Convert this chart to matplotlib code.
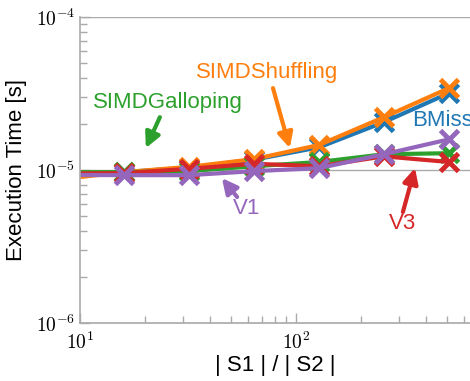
import matplotlib
matplotlib.use("Agg")
from matplotlib import pyplot as plt
from matplotlib.ticker import FuncFormatter, LogLocator
import numpy as np

plt.rcParams['font.family'] = ['Liberation Sans', 'DejaVu Sans']
plt.rcParams['mathtext.fontset'] = 'cm'

# data (ratio |S1|/|S2| vs execution time in seconds)
ratio = [8, 16, 32, 64, 128, 256, 512]
bmiss = [9.3e-6, 9.7e-6, 1.04e-5, 1.17e-5, 1.41e-5, 2.06e-5, 3.19e-5]
shuffling = [8.7e-6, 9.7e-6, 1.05e-5, 1.18e-5, 1.46e-5, 2.22e-5, 3.44e-5]
galloping = [9.7e-6, 9.7e-6, 9.85e-6, 1.06e-5, 1.13e-5, 1.27e-5, 1.29e-5]
v3 = [9.5e-6, 9.55e-6, 1.02e-5, 1.10e-5, 1.06e-5, 1.23e-5, 1.13e-5]
v1 = [9.3e-6, 9.27e-6, 9.27e-6, 9.85e-6, 1.03e-5, 1.27e-5, 1.59e-5]

blue = '#1f77b4'
orange = '#ff7f0e'
green = '#2ca02c'
red = '#d62728'
purple = '#9467bd'
gray = '#aaaaaa'

fig = plt.figure(figsize=(4.7, 3.81), dpi=100)
ax = fig.add_axes([0.170, 0.152, 0.830, 0.803])

series = [(bmiss, blue), (shuffling, orange), (galloping, green), (v3, red), (v1, purple)]
for ys, c in series:
    ax.plot(ratio, ys, color=c, lw=3, marker='x', markersize=13, mew=3.5, solid_capstyle='round')

ax.set_xscale('log')
ax.set_yscale('log')
ax.set_xlim(10, 640)
ax.set_ylim(1e-6, 1e-4)

fmt = FuncFormatter(lambda v, p: r'$10^{%d}$' % int(round(np.log10(v))))
ax.xaxis.set_major_formatter(fmt)
ax.yaxis.set_major_formatter(fmt)
ax.yaxis.set_major_locator(LogLocator(base=10, numticks=5))

ax.tick_params(which='both', direction='in', color=gray, width=1, labelsize=14)
ax.tick_params(which='major', length=7)
ax.tick_params(which='minor', length=5)
ax.tick_params(axis='x', pad=6)

ax.grid(axis='y', which='major', color=gray, lw=1)
ax.set_axisbelow(True)
for s in ['top', 'right']:
    ax.spines[s].set_visible(False)
for s in ['left', 'bottom']:
    ax.spines[s].set_color(gray)
    ax.spines[s].set_linewidth(1.2)

ax.set_xlabel('| S1 | / | S2 |', fontsize=16, labelpad=2)
ax.set_ylabel('Execution Time [s]', fontsize=16, labelpad=6)

# labels with arrows (axes fraction coords)
def label(text, color, tpos, tail=None, head=None, ha='center'):
    ax.text(tpos[0], tpos[1], text, color=color, fontsize=16, ha=ha, va='center',
            transform=ax.transAxes, clip_on=False)
    if tail is not None:
        ax.annotate('', xy=head, xytext=tail, xycoords='axes fraction', textcoords='axes fraction',
                    arrowprops=dict(arrowstyle='-|>,head_width=0.45,head_length=0.9',
                                    color=color, lw=3, shrinkA=0, shrinkB=0))

label('SIMDShuffling', orange, (0.479, 0.820), (0.495, 0.768), (0.538, 0.572))
label('SIMDGalloping', green, (0.226, 0.722), (0.205, 0.673), (0.169, 0.572))
label('BMiss', blue, (0.851, 0.663), ha='left')
label('V1', purple, (0.428, 0.376), (0.403, 0.412), (0.364, 0.474))
label('V3', red, (0.826, 0.327), (0.828, 0.363), (0.859, 0.507))

fig.savefig('out.png', dpi=100)
